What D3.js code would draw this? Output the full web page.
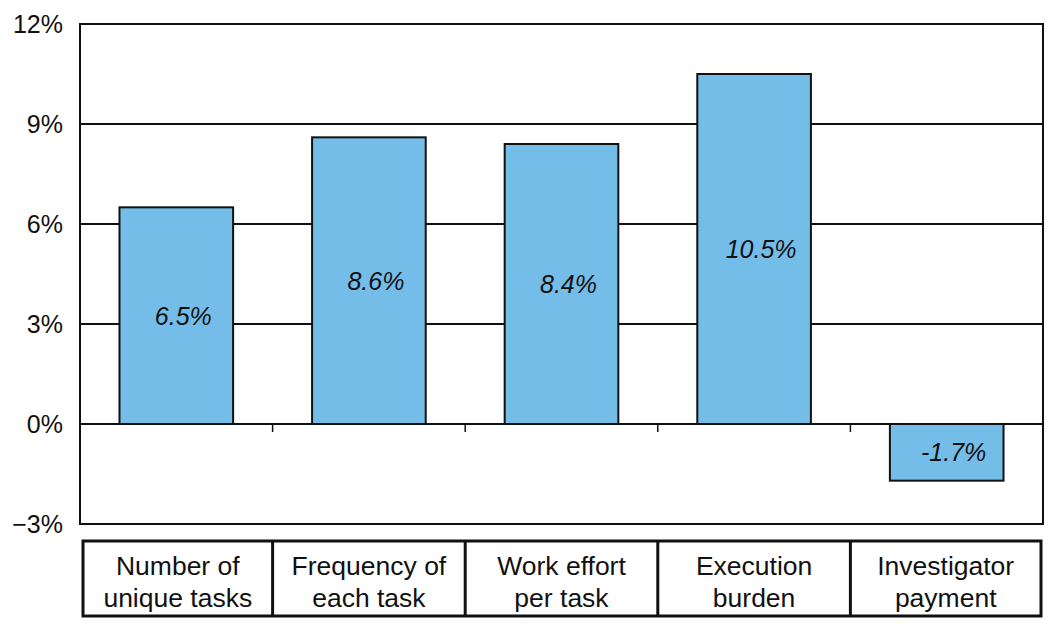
<!DOCTYPE html>
<html><head><meta charset="utf-8">
<script src="https://cdn.jsdelivr.net/npm/d3@7"></script>
<style>body{margin:0;background:#fff}svg{display:block}text{font-family:"Liberation Sans",Arial,Helvetica,sans-serif}</style>
</head><body><svg id="c" width="1050" height="629"></svg>
<script>
const categories = [["Number of","unique tasks"],["Frequency of","each task"],["Work effort","per task"],["Execution","burden"],["Investigator","payment"]];
const values = [6.5, 8.6, 8.4, 10.5, -1.7];
const valueLabels = ["6.5%","8.6%","8.4%","10.5%","-1.7%"];
const tickValues = [-3, 0, 3, 6, 9, 12];
const tickLabels = ["\u22123%","0%","3%","6%","9%","12%"];

const svg = d3.select("#c");
const L = 80, R = 1043, T = 24, B = 524;
const x = d3.scaleBand().domain(d3.range(values.length)).range([L, R]).paddingInner(0.41).paddingOuter(0.205);
const xc = d3.scaleBand().domain(d3.range(values.length)).range([L, R]);
const y = d3.scaleLinear().domain([-3, 12]).range([B, T]);

// gridlines
svg.append("g").selectAll("line").data(tickValues).join("line")
  .attr("x1", L).attr("x2", R).attr("y1", d => y(d)).attr("y2", d => y(d))
  .attr("stroke", "#111").attr("stroke-width", 2);

// y labels
svg.append("g").selectAll("text").data(tickValues).join("text")
  .attr("x", 63).attr("y", d => y(d) + 9).attr("text-anchor", "end")
  .attr("font-size", 25).attr("fill", "#111").text((d, i) => tickLabels[i]);

// category tick marks at zero
svg.append("g").selectAll("line").data(d3.range(1, values.length)).join("line")
  .attr("x1", d => xc(d)).attr("x2", d => xc(d)).attr("y1", y(0)).attr("y2", y(0) + 8)
  .attr("stroke", "#111").attr("stroke-width", 1.5);

// bars
svg.append("g").selectAll("rect").data(values).join("rect")
  .attr("x", (d, i) => x(i)).attr("width", x.bandwidth())
  .attr("y", d => y(Math.max(0, d))).attr("height", d => Math.abs(y(d) - y(0)))
  .attr("fill", "#75bde9").attr("stroke", "#111").attr("stroke-width", 2);

// bar labels
svg.append("g").selectAll("text").data(values).join("text")
  .attr("x", (d, i) => x(i) + x.bandwidth() / 2 + 7)
  .attr("y", d => (y(d) + y(0)) / 2 + 9)
  .attr("text-anchor", "middle").attr("font-size", 25).attr("font-style", "italic").attr("fill", "#111")
  .text((d, i) => valueLabels[i]);

// plot frame
svg.append("rect").attr("x", L).attr("y", T).attr("width", R - L).attr("height", B - T)
  .attr("fill", "none").attr("stroke", "#111").attr("stroke-width", 2);

// category table
const tT = 541, tB = 616, tL = 83, tR = 1041;
svg.append("rect").attr("x", tL).attr("y", tT).attr("width", tR - tL).attr("height", tB - tT)
  .attr("fill", "none").attr("stroke", "#111").attr("stroke-width", 3);
svg.append("g").selectAll("line").data(d3.range(1, categories.length)).join("line")
  .attr("x1", d => xc(d)).attr("x2", d => xc(d)).attr("y1", tT).attr("y2", tB)
  .attr("stroke", "#111").attr("stroke-width", 3);
const cg = svg.append("g").selectAll("text").data(categories).join("text")
  .attr("text-anchor", "middle").attr("font-size", 26.5).attr("fill", "#111");
cg.each(function(d, i) {
  const cx = (i === 0 ? tL : xc(i)) / 2 + (i === categories.length - 1 ? tR : xc(i + 1)) / 2;
  d3.select(this).selectAll("tspan").data(d).join("tspan")
    .attr("x", cx).attr("y", (t, j) => 575 + j * 32).text(t => t);
});
</script></body></html>
